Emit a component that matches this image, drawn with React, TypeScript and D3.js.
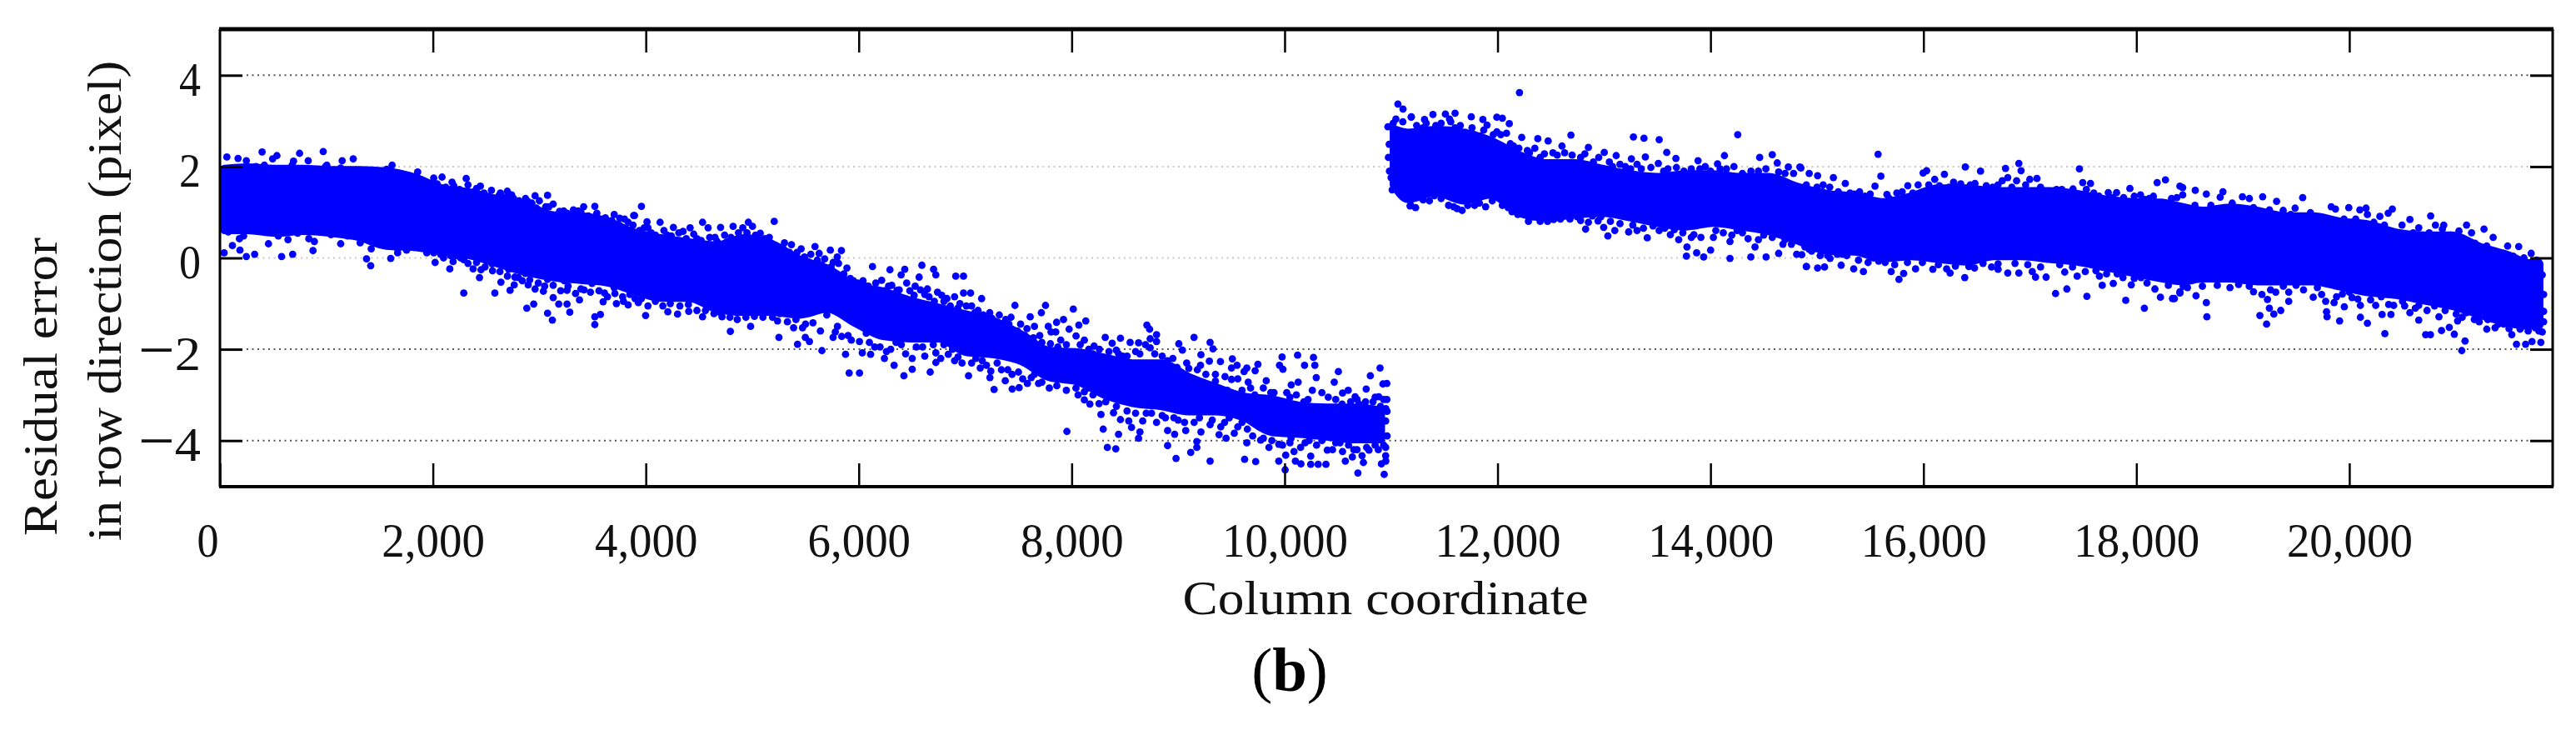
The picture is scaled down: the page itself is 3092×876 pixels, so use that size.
import { useEffect, useRef } from 'react';
import * as d3 from 'd3';

const columnTicks = [0, 2000, 4000, 6000, 8000, 10000, 12000, 14000, 16000, 18000, 20000];
const residualTicks = [-4, -2, 0, 2, 4];
const faintGridTicks = [0, 2];
const yTitleLines = ['Residual error', 'in row direction (pixel)'];
const xTitle = 'Column coordinate';
const panelLabel = 'b';

// The middle of each cloud is solid blue in the picture, single points can't be told apart there,
// so it is kept as a band: [column, high, low]
const leftBand: [number, number, number][] = [
  [45, 1.94, 0.62], [261, 1.97, 0.62], [522, 1.94, 0.56], [782, 1.94, 0.6], [1043, 1.91, 0.56], [1304, 1.91, 0.47],
  [1565, 1.88, 0.28], [1826, 1.75, 0.25], [2086, 1.51, 0.16], [2347, 1.42, 0.07], [2608, 1.27, -0.11], [2869, 1.15, -0.29],
  [3130, 0.92, -0.41], [3390, 0.9, -0.47], [3651, 0.78, -0.53], [3881, 0.55, -0.7], [4142, 0.42, -0.86], [4403, 0.33, -0.86],
  [4663, 0.26, -1.1], [4924, 0.42, -1.17], [5185, 0.29, -1.17], [5446, -0.05, -1.23], [5706, -0.25, -1.1], [5967, -0.62, -1.41],
  [6228, -0.75, -1.7], [6489, -0.95, -1.75], [6750, -1.1, -1.75], [7011, -1.25, -2.05], [7271, -1.4, -2.1], [7532, -1.7, -2.25],
  [7793, -2.05, -2.6], [8054, -2.08, -2.69], [8315, -2.2, -2.99], [8576, -2.32, -3.17], [8836, -2.32, -3.23], [9097, -2.62, -3.35],
  [9358, -2.85, -3.35], [9619, -3.05, -3.48], [9880, -3.11, -3.8], [10141, -3.25, -3.84], [10401, -3.29, -3.9], [10662, -3.29, -3.96],
  [10900, -3.35, -3.96],
];
const rightBand: [number, number, number][] = [
  [11030, 2.8, 1.6], [11158, 2.73, 1.3], [11419, 2.79, 1.45], [11680, 2.73, 1.27], [11940, 2.55, 1.4], [12201, 2.24, 1.0],
  [12462, 2.06, 0.9], [12723, 2.06, 0.96], [12984, 1.94, 1.0], [13244, 1.82, 0.9], [13505, 1.76, 0.78], [13766, 1.82, 0.7],
  [14027, 1.82, 0.78], [14287, 1.76, 0.7], [14548, 1.76, 0.6], [14809, 1.55, 0.4], [15097, 1.39, 0.17], [15358, 1.33, 0.15],
  [15618, 1.21, 0.0], [15879, 1.33, 0.05], [16140, 1.51, -0.01], [16401, 1.51, -0.07], [16662, 1.45, 0.05], [16922, 1.45, 0.05],
  [17183, 1.45, -0.01], [17444, 1.39, -0.07], [17705, 1.27, -0.19], [17966, 1.21, -0.31], [18226, 1.2, -0.43], [18435, 1.1, -0.5],
  [18618, 1.02, -0.44], [18879, 1.09, -0.44], [19139, 1.02, -0.5], [19400, 0.9, -0.5], [19661, 0.9, -0.5], [19922, 0.78, -0.62],
  [20183, 0.72, -0.74], [20443, 0.54, -0.8], [20704, 0.48, -0.92], [20965, 0.48, -1.04], [21226, 0.23, -1.23], [21487, 0.05, -1.41],
  [21695, -0.13, -1.47], [21780, -0.13, -1.47],
];

// [column, residual]
const leftUpperPoints: [number, number][] = [
  [65, 2.21], [170, 2.18], [248, 2.13], [396, 2.32], [495, 2.17], [535, 2.24], [691, 2.12], [748, 2.29], [829, 2.13], [970, 2.33],
  [1148, 2.13], [1252, 2.17], [1134, 1.97], [1004, 2.03], [1617, 2.03], [1857, 1.88], [1773, 1.8], [2086, 1.77], [2313, 1.74], [2196, 1.58],
  [2446, 1.57], [2634, 1.42], [2699, 1.46], [2759, 1.3], [2890, 1.24], [2960, 1.36], [3077, 1.37], [3090, 1.12], [3229, 1.03], [3416, 1.12],
  [3521, 1.13], [3703, 0.95], [3886, 0.93], [339, 2.0], [417, 2.03], [600, 1.94], [678, 2.03], [861, 1.94], [991, 2.0], [1174, 1.91],
  [1382, 1.91], [1460, 1.85], [1565, 1.94], [1695, 1.79], [2008, 1.75], [2139, 1.45], [2295, 1.42], [2386, 1.45], [2504, 1.3], [2608, 1.27],
  [2764, 1.09], [2973, 1.09], [3169, 0.87], [3364, 1.03], [3599, 0.78], [3755, 0.87], [3834, 0.78], [3959, 1.13], [3894, 0.93], [4011, 0.79],
  [4134, 0.78], [3985, 0.66], [4259, 0.67], [4416, 0.66], [4533, 0.78], [4585, 0.66], [4702, 0.67], [4820, 0.69], [4911, 0.66], [4963, 0.78],
  [5002, 0.69], [5075, 0.54], [5206, 0.8], [5172, 0.33], [5302, 0.33], [5368, 0.29], [5459, 0.2], [5589, 0.25], [5628, 0.1], [5733, 0.17],
  [5837, 0.16], [5798, 0.02], [5889, -0.22], [6129, -0.19], [6293, -0.26], [6432, -0.25], [6398, -0.37], [6593, -0.16], [6703, -0.25], [6724, -0.37],
  [6567, -0.42], [6911, -0.4], [6984, -0.4], [6215, -0.49], [6359, -0.71], [6645, -0.68], [6828, -0.89], [6984, -0.77], [7154, -0.89], [7050, -0.77],
  [7467, -1.04], [7754, -1.04], [7715, -1.2], [7610, -1.29], [4050, 0.55], [4200, 0.5], [4350, 0.58], [4480, 0.42], [4650, 0.45], [4760, 0.35],
  [5120, 0.42], [5250, 0.1], [5400, 0.05], [5520, -0.08], [5650, -0.15], [5760, -0.1], [5950, -0.5], [6050, -0.6], [6170, -0.7], [6280, -0.62],
  [6480, -0.72], [6530, -0.62], [6620, -0.8], [6740, -0.75], [6800, -0.95], [6900, -0.85], [6950, -1.0], [7060, -1.05], [7120, -1.15], [7230, -1.2],
  [7320, -1.25], [7380, -1.35], [7430, -1.3], [7520, -1.45], [7580, -1.55], [7650, -1.5], [7700, -1.7], [7780, -1.5], [7850, -1.62],
  [7806, -1.62], [7858, -1.41], [7897, -1.8], [7923, -1.35], [7976, -1.56], [8015, -1.12], [8041, -1.71], [8067, -1.47], [8119, -1.8], [8132, -1.38],
  [8210, -1.93], [8315, -1.74], [8380, -1.87], [8458, -1.76], [8419, -2.02], [8549, -1.85], [8628, -1.86], [8706, -1.47], [8732, -1.56], [8797, -1.68],
  [8797, -1.83], [8737, -1.77], [8693, -1.9], [8737, -1.97], [9006, -1.88], [9040, -2.02], [9149, -1.74], [9300, -1.85], [9327, -1.99], [9214, -2.12],
  [9397, -2.27], [9293, -2.26], [9509, -2.21], [9553, -2.35], [9501, -2.41], [9645, -2.41], [9619, -2.49], [9749, -2.33], [9723, -2.47], [9976, -2.17],
  [9952, -2.35], [9984, -2.44], [10122, -2.13], [10187, -2.35], [10271, -2.18], [10284, -2.35], [10505, -2.49], [10805, -2.58], [10896, -2.41], [10923, -2.76],
  [10884, -3.04], [10662, -3.04], [10597, -2.9], [10766, -2.87], [10544, -2.96], [10466, -2.72], [10297, -2.62], [9827, -2.69], [10127, -2.72], [10062, -2.78],
  [9658, -2.72], [9501, -2.66], [9462, -2.9], [9410, -2.9], [8200, -2.1], [8480, -2.15], [8600, -2.05], [8850, -2.15], [8950, -2.2], [9080, -2.3],
  [9180, -2.45], [9260, -2.55], [9350, -2.7], [9600, -2.9], [9720, -3.0], [9900, -2.95], [10050, -3.05], [10220, -3.1], [10350, -2.95], [10480, -3.1],
  [10620, -3.15], [10700, -3.2], [10830, -3.15], [10900, -3.25],
  [2040, 1.62], [2120, 1.55], [2180, 1.66], [2250, 1.5], [2330, 1.6], [2410, 1.52], [2480, 1.42], [2550, 1.48], [2620, 1.36], [2680, 1.33],
  [2740, 1.38], [2810, 1.25], [2870, 1.3], [2930, 1.2], [3000, 1.25], [3060, 1.12], [3130, 1.18], [3190, 1.02], [3260, 0.98], [3320, 1.05],
  [3390, 1.0], [3460, 0.92], [3540, 0.98], [3620, 0.88], [3680, 0.82], [3750, 0.72], [3800, 0.85], [3880, 0.72], [3940, 0.6], [4020, 0.66],
  [4090, 0.5], [4170, 0.6], [4240, 0.48], [4310, 0.55], [4380, 0.42], [4450, 0.52], [4520, 0.38], [4600, 0.45], [4670, 0.36], [4740, 0.5],
  [4800, 0.45], [4870, 0.55], [4950, 0.55], [5030, 0.5], [5100, 0.32], [5160, 0.45], [5220, 0.25], [5290, 0.2], [5350, 0.12], [5420, 0.12],
  [5490, 0.02], [5550, 0.08], [5610, -0.05], [5680, -0.02], [5740, -0.2], [5810, -0.12], [5860, -0.35], [5920, -0.45], [5990, -0.55], [6040, -0.5],
  [6090, -0.62], [6160, -0.55], [6240, -0.72], [6310, -0.6], [6380, -0.7], [6450, -0.55], [6520, -0.82], [6580, -0.7], [6660, -0.85], [6710, -0.95],
  [6780, -0.82], [6860, -1.05], [6930, -1.1], [7010, -1.05], [7090, -1.2], [7170, -1.25], [7250, -1.32], [7340, -1.5], [7410, -1.45], [7490, -1.6],
  [7560, -1.7], [7640, -1.75], [7720, -1.85], [7800, -1.88], [7870, -1.95], [7950, -1.9], [8080, -1.9], [8160, -2.0], [8260, -2.0], [8350, -2.05],
  [8440, -2.1], [8520, -2.15], [8640, -2.1], [8780, -2.1], [8900, -2.25], [8990, -2.4], [9100, -2.42], [9210, -2.35], [9350, -2.55], [9440, -2.6],
  [9560, -2.65], [9680, -2.85], [9800, -2.85], [9870, -2.95], [10020, -2.95], [10110, -3.0], [10180, -3.15], [10260, -2.9], [10410, -3.05], [10540, -3.2],
  [10680, -3.1], [10760, -3.15], [10850, -3.05], [10930, -3.1], [10950, -3.3],
];
const leftLowerPoints: [number, number][] = [
  [117, 0.27], [183, 0.42], [222, 0.48], [39, 0.11], [188, 0.17], [248, 0.03], [326, 0.08], [456, 0.31], [579, 0.03], [639, 0.4],
  [683, 0.08], [874, 0.16], [887, 0.36], [1134, 0.31], [1239, 0.49], [1317, 0.33], [1377, -0.02], [1416, -0.17], [1421, 0.2], [1604, -0.01],
  [1669, 0.11], [1753, 0.17], [1943, 0.11], [2021, -0.1], [2073, 0.08], [2159, -0.24], [2217, 0.05], [2290, -0.04], [2290, -0.77], [2378, -0.24],
  [2438, -0.43], [2452, -0.26], [2582, -0.77], [2639, -0.53], [2725, -0.71], [2764, -0.59], [2804, -0.43], [2882, -1.1], [2947, -1.01], [2895, -0.59],
  [2960, -0.68], [3038, -0.73], [3077, -1.21], [3122, -1.36], [3130, -0.87], [3182, -1.01], [3260, -0.71], [3260, -1.01], [3286, -1.19], [3377, -0.92],
  [3390, -0.68], [3521, -1.29], [3573, -1.24], [3521, -1.46], [3599, -0.96], [3612, -0.77], [3724, -1.0], [3782, -0.85], [3834, -1.03], [3899, -0.89],
  [78, 0.57], [261, 0.6], [443, 0.57], [548, 0.48], [730, 0.54], [835, 0.42], [1043, 0.51], [1200, 0.48], [1356, 0.42], [1513, 0.3],
  [1669, 0.2], [1826, 0.23], [2008, 0.11], [2165, 0.05], [2347, 0.05], [2556, -0.13], [2712, -0.25], [2869, -0.34], [3077, -0.47], [3234, -0.5],
  [3495, -0.56], [3703, -0.65], [3860, -0.62], [3998, -1.26], [3959, -0.89], [4207, -1.18], [4298, -1.23], [4403, -1.17], [4533, -1.29], [4716, -1.29],
  [4794, -1.61], [4859, -1.35], [4984, -1.5], [5237, -1.38], [5250, -1.74], [5388, -1.53], [5425, -1.89], [5472, -1.53], [5498, -1.74], [5537, -1.83],
  [5654, -2.03], [5759, -1.74], [5876, -2.11], [5910, -2.52], [6007, -2.52], [6007, -1.83], [6033, -2.08], [6111, -2.11], [6241, -2.2], [6332, -2.35],
  [6424, -2.58], [6502, -2.44], [6502, -2.2], [6671, -2.5], [6724, -2.29], [6724, -2.08], [6841, -2.11], [6932, -2.17], [7031, -2.58], [7141, -2.41],
  [7232, -2.62], [7271, -2.88], [7376, -2.69], [7441, -2.87], [7506, -2.84], [7584, -2.75], [7689, -2.75], [5800, -1.5], [5900, -1.7], [6100, -1.85],
  [6200, -1.95], [6300, -2.0], [6400, -1.9], [6600, -1.95], [6800, -1.9], [6900, -2.25], [7100, -2.2], [7200, -2.35], [7300, -2.3], [7400, -2.45],
  [7500, -2.5], [7650, -2.55], [7955, -3.8], [8119, -2.93], [8119, -3.11], [8171, -3.2], [8257, -3.19], [8275, -3.43], [8296, -3.75], [8335, -4.15],
  [8414, -4.18], [8440, -3.86], [8393, -3.39], [8458, -3.54], [8536, -3.57], [8562, -3.71], [8628, -3.95], [8641, -3.81], [8667, -3.57], [8797, -3.6],
  [8901, -3.78], [8967, -3.86], [8901, -4.11], [8980, -4.39], [9118, -4.26], [9175, -4.15], [9175, -4.02], [9071, -3.78], [9214, -3.81], [9300, -4.45],
  [9384, -3.87], [9436, -3.6], [9527, -3.84], [9645, -4.05], [9624, -4.41], [9728, -4.46], [9775, -3.99], [9853, -4.15], [9945, -4.08], [9945, -4.45],
  [10010, -4.32], [10005, -4.64], [10088, -4.24], [10101, -4.45], [10153, -4.51], [10245, -4.34], [10245, -4.52], [10315, -4.52], [10388, -4.52], [10192, -4.05],
  [10401, -4.21], [10570, -4.45], [10544, -4.24], [10688, -4.71], [10740, -4.48], [10727, -4.33], [10909, -4.51], [10935, -4.74], [10949, -4.33], [10949, -4.15],
  [10962, -3.9], [10949, -3.57], [10962, -3.36], [10792, -4.21], [10636, -4.36], [8700, -3.4], [8850, -3.45], [9000, -3.55], [9150, -3.6], [9300, -3.65],
  [9450, -3.95], [9560, -3.7], [9650, -3.75], [9800, -3.95], [10050, -4.05], [10300, -4.1], [10480, -4.05], [10600, -4.1], [10680, -4.2], [10850, -4.1],
  [10960, -3.1], [10960, -2.75], [10950, -4.45],
  [2100, 0.0], [2190, -0.08], [2260, 0.0], [2330, -0.12], [2410, -0.1], [2490, -0.2], [2560, -0.28], [2630, -0.3], [2700, -0.4], [2770, -0.42],
  [2840, -0.5], [2910, -0.48], [2990, -0.55], [3050, -0.62], [3130, -0.6], [3200, -0.72], [3270, -0.62], [3340, -0.78], [3420, -0.7], [3480, -0.75],
  [3560, -0.72], [3640, -0.85], [3710, -0.78], [3790, -0.95], [3850, -0.8], [3930, -0.98], [4020, -1.05], [4090, -0.95], [4160, -1.05], [4230, -1.0],
  [4320, -1.05], [4400, -1.02], [4480, -1.15], [4560, -1.15], [4640, -1.22], [4700, -1.2], [4790, -1.3], [4860, -1.2], [4940, -1.3], [5020, -1.28],
  [5100, -1.3], [5190, -1.3], [5260, -1.22], [5330, -1.4], [5410, -1.35], [5500, -1.45], [5570, -1.42], [5640, -1.6], [5700, -1.25], [5780, -1.62],
  [5840, -1.72], [5930, -1.8], [6070, -1.65], [6150, -1.95], [6260, -2.05], [6350, -1.85], [6440, -2.1], [6540, -1.95], [6620, -2.15], [6700, -1.9],
  [6770, -2.2], [6880, -2.0], [6970, -2.3], [7060, -2.3], [7160, -2.25], [7240, -2.48], [7340, -2.45], [7440, -2.55], [7540, -2.65], [7620, -2.62],
  [7720, -2.72], [7790, -2.85], [7860, -2.8], [7950, -2.9], [8040, -2.85], [8060, -3.0], [8150, -2.85], [8200, -3.0], [8320, -3.15], [8420, -3.25],
  [8520, -3.35], [8600, -3.4], [8750, -3.4], [8880, -3.5], [8960, -3.5], [9060, -3.6], [9200, -3.5], [9320, -3.55], [9400, -3.7], [9480, -3.5],
  [9600, -3.6], [9700, -3.9], [9760, -3.7], [9880, -4.0], [9980, -4.1], [10060, -3.95], [10150, -4.15], [10230, -4.0], [10350, -4.0], [10450, -4.2],
  [10520, -4.05], [10650, -4.2], [10770, -4.15], [10880, -4.2], [10930, -4.1],
];
const rightUpperPoints: [number, number][] = [
  [11064, 3.37], [11112, 3.26], [11190, 3.09], [11045, 3.04], [10970, 2.87], [10982, 2.49], [10975, 2.2], [10985, 1.9], [11189, 3.08], [11314, 3.03],
  [11393, 3.14], [11510, 3.15], [11601, 3.17], [11549, 3.04], [11753, 3.09], [11862, 3.03], [11901, 2.91], [11993, 3.08], [12045, 3.06], [12110, 2.94],
  [12206, 3.62], [12227, 2.64], [12378, 2.61], [12475, 2.56], [12689, 2.69], [12605, 2.45], [12853, 2.42], [13002, 2.31], [13114, 2.24], [13276, 2.65],
  [13375, 2.62], [13518, 2.59], [13589, 2.31], [13675, 2.18], [13388, 2.21], [13257, 2.17], [13510, 2.07], [13883, 2.13], [14131, 2.24], [14256, 2.7],
  [14462, 2.2], [14580, 2.26], [14627, 2.08], [14731, 1.99], [14840, 1.99], [14066, 2.06], [11784, 2.7], [12084, 2.73], [11236, 2.67], [11993, 2.76],
  [11836, 2.67], [11300, 2.85], [11420, 2.9], [11600, 2.85], [11700, 2.75], [12150, 2.45], [12300, 2.3], [12400, 2.2], [12560, 2.25], [12780, 2.2],
  [12900, 2.1], [13050, 2.1], [13200, 2.0], [13350, 1.95], [13600, 1.95], [13750, 1.9], [13900, 1.95], [14000, 1.9], [14150, 1.95], [14300, 1.85],
  [14450, 1.9], [14700, 1.85], [14849, 1.97], [14927, 1.85], [15006, 1.8], [15058, 1.6], [15154, 1.76], [15266, 1.63], [15574, 2.27], [15600, 1.79],
  [15545, 1.57], [15657, 1.39], [15853, 1.58], [15997, 1.86], [16030, 1.91], [16106, 1.72], [16197, 1.83], [16283, 1.66], [16393, 1.99], [16536, 1.9],
  [16484, 1.63], [16771, 1.96], [16896, 2.07], [16917, 1.91], [16792, 1.76], [16875, 1.69], [16999, 1.72], [17066, 1.74], [16740, 1.69], [17465, 1.95],
  [17496, 1.65], [17569, 1.63], [17736, 1.43], [17814, 1.43], [17939, 1.52], [18039, 1.38], [18195, 1.65], [18273, 1.71], [18409, 1.57], [17405, 1.51],
  [17183, 1.42], [15000, 1.55], [15200, 1.45], [15350, 1.4], [15450, 1.35], [15750, 1.42], [15950, 1.6], [16300, 1.55], [16650, 1.55], [17250, 1.5],
  [17650, 1.35], [17880, 1.32], [18120, 1.3], [18330, 1.3], [18435, 1.54], [18553, 1.48], [18435, 1.38], [18657, 1.4], [18813, 1.45], [18787, 1.33],
  [18996, 1.34], [19061, 1.3], [19186, 1.34], [19317, 1.24], [19562, 1.32], [19379, 1.04], [19491, 1.09], [19635, 0.99], [19830, 1.12], [19870, 1.07],
  [19995, 1.1], [20099, 1.05], [20157, 1.09], [20170, 0.95], [20287, 0.91], [20404, 1.07], [20365, 0.98], [20495, 0.72], [20569, 0.84], [20652, 0.66],
  [20764, 0.92], [20809, 0.72], [20887, 0.72], [20874, 0.63], [21030, 0.59], [21101, 0.72], [21148, 0.55], [21265, 0.63], [21351, 0.45], [21291, 0.26],
  [21487, 0.26], [21591, 0.25], [21708, 0.1], [21395, 0.05], [21539, 0.04], [18550, 1.15], [18700, 1.15], [18900, 1.2], [19100, 1.1], [19250, 1.05],
  [19450, 0.95], [19600, 0.9], [19760, 0.85], [19950, 0.85], [20060, 0.85], [20230, 0.78], [20330, 0.72], [20600, 0.55], [20750, 0.55], [20950, 0.5],
  [21080, 0.4], [21180, 0.32], [21340, 0.15], [21450, 0.1], [21640, 0.0], [21760, -0.05],
  [11020, 2.95], [11110, 2.98], [11240, 2.9], [11330, 2.95], [11470, 2.95], [11560, 2.98], [11650, 2.9], [11760, 2.85], [11870, 2.8], [11960, 2.7],
  [12030, 2.7], [12120, 2.5], [12200, 2.4], [12280, 2.35], [12350, 2.4], [12440, 2.28], [12520, 2.3], [12630, 2.3], [12700, 2.25], [12820, 2.28],
  [12950, 2.2], [13080, 2.0], [13150, 2.05], [13250, 1.95], [13310, 2.05], [13440, 1.98], [13560, 1.9], [13680, 1.98], [13820, 1.95], [13950, 2.0],
  [14090, 1.95], [14220, 2.0], [14380, 1.9], [14520, 1.95], [14640, 1.88], [14780, 1.85], [14900, 1.6], [15050, 1.45], [15120, 1.55], [15310, 1.42],
  [15400, 1.45], [15500, 1.4], [15680, 1.3], [15800, 1.45], [15900, 1.42], [16050, 1.6], [16150, 1.58], [16240, 1.55], [16350, 1.62], [16440, 1.6],
  [16590, 1.58], [16700, 1.6], [16830, 1.55], [16960, 1.6], [17100, 1.55], [17300, 1.5], [17380, 1.42], [17530, 1.5], [17600, 1.42], [17780, 1.32],
  [17980, 1.35], [18080, 1.28], [18160, 1.35], [18380, 1.32],
];
const rightLowerPoints: [number, number][] = [
  [11000, 1.76], [11010, 1.49], [11134, 1.4], [11178, 1.14], [11040, 1.55], [11090, 1.5], [11184, 1.15], [11301, 1.27], [11406, 1.36], [11588, 1.12],
  [11667, 1.04], [11784, 1.15], [11888, 1.12], [12045, 1.15], [12136, 1.01], [12253, 0.96], [12332, 0.9], [12527, 0.84], [12749, 0.9], [12827, 0.63],
  [12853, 0.78], [12944, 0.81], [13036, 0.48], [13101, 0.6], [12997, 0.67], [13231, 0.57], [13310, 0.6], [13406, 0.44], [13518, 0.6], [13623, 0.51],
  [13701, 0.4], [13779, 0.24], [13774, 0.04], [13870, 0.11], [13936, 0.02], [14001, 0.17], [14183, -0.01], [14183, 0.36], [14353, 0.42], [14379, 0.02],
  [14418, 0.24], [14522, 0.02], [14640, 0.1], [14809, 0.08], [14900, -0.19], [14887, 0.24], [13844, 0.51], [14027, 0.45], [14250, 0.6], [14500, 0.5],
  [14700, 0.4], [14857, 0.07], [14927, 0.19], [14901, -0.19], [15006, -0.22], [15071, -0.2], [15123, -0.01], [15227, -0.16], [15345, -0.24], [15436, -0.3],
  [15240, 0.08], [15579, -0.07], [15697, -0.3], [15770, -0.47], [15814, -0.34], [15926, -0.24], [16088, -0.25], [16218, -0.24], [16250, -0.33], [16388, -0.43],
  [16427, -0.19], [16701, -0.13], [16701, -0.25], [16792, -0.33], [16896, -0.33], [17022, -0.3], [17053, -0.42], [17152, -0.42], [17241, -0.78], [17347, -0.68],
  [17327, -0.31], [17444, -0.4], [17535, -0.84], [17653, -0.4], [17679, -0.6], [17783, -0.56], [17874, -0.43], [17900, -0.93], [17952, -0.59], [18075, -1.1],
  [18044, -0.43], [18174, -0.68], [18226, -0.86], [18339, -0.89], [18409, -0.77], [18409, -0.74], [18357, -0.89], [18560, -0.83], [18657, -0.98], [18662, -1.29],
  [18879, -0.65], [19100, -0.74], [19179, -0.8], [19231, -0.91], [19160, -1.26], [19223, -1.45], [19249, -1.1], [19291, -1.23], [19356, -1.15], [19309, -0.75],
  [19431, -0.75], [19431, -0.95], [19661, -0.86], [19786, -1.18], [19791, -1.29], [19778, -0.95], [19857, -0.98], [19909, -1.38], [19953, -1.07], [19935, -0.79],
  [20026, -0.87], [20104, -1.04], [20104, -1.3], [20170, -1.43], [20248, -1.04], [20308, -1.24], [20391, -1.24], [20417, -1.04], [20334, -1.66], [20569, -1.2],
  [20652, -1.04], [20652, -1.36], [20717, -1.68], [20762, -1.68], [20842, -1.29], [20866, -1.59], [20986, -1.67], [20939, -1.52], [21017, -1.38], [21004, -1.23],
  [21087, -1.82], [21056, -2.03], [21174, -1.35], [21291, -1.56], [21369, -1.53], [21526, -1.68], [21570, -1.89], [21656, -1.89], [21716, -1.83], [21799, -1.85],
  [21812, -1.62], [21747, -1.53], [21604, -1.56], [21825, -1.17], [21825, -0.8], [21812, -0.37], [21773, -0.07], [19500, -0.6], [19700, -0.65], [20000, -0.75],
  [20300, -0.85], [20500, -0.95], [20800, -1.05], [21100, -1.2], [21300, -1.35], [21450, -1.45], [21600, -1.5], [21825, -1.4],
  [11060, 1.5], [11230, 1.1], [11360, 1.25], [11470, 1.3], [11540, 1.15], [11620, 1.08], [11720, 1.15], [11830, 1.2], [11950, 1.25], [12100, 1.1],
  [12190, 0.95], [12290, 0.8], [12400, 0.8], [12470, 0.8], [12590, 0.85], [12680, 0.85], [12780, 0.82], [12890, 0.92], [12970, 0.9], [13060, 0.8],
  [13150, 0.75], [13270, 0.72], [13370, 0.65], [13460, 0.7], [13570, 0.65], [13660, 0.62], [13740, 0.55], [13820, 0.45], [13910, 0.45], [14050, 0.6],
  [14120, 0.55], [14200, 0.5], [14300, 0.55], [14450, 0.4], [14580, 0.45], [14680, 0.3], [14760, 0.3], [14950, 0.15], [15030, 0.05], [15100, 0.05],
  [15190, 0.08], [15280, 0.05], [15390, -0.05], [15480, -0.1], [15530, 0.0], [15640, -0.1], [15730, -0.15], [15850, -0.1], [15990, -0.1], [16140, -0.15],
  [16300, -0.18], [16480, -0.22], [16560, -0.12], [16640, -0.2], [16860, -0.12], [16980, -0.15], [17100, -0.2], [17280, -0.15], [17400, -0.2], [17520, -0.3],
  [17620, -0.28], [17720, -0.35], [17820, -0.35], [17980, -0.45], [18100, -0.55], [18300, -0.6], [18440, -0.62], [18480, -0.65], [18620, -0.62], [18760, -0.6],
  [18960, -0.58], [19060, -0.62], [19260, -0.7], [19380, -0.62], [19570, -0.7], [19740, -0.8], [19880, -0.85], [20080, -0.9], [20200, -0.92], [20370, -1.02],
  [20520, -1.05], [20620, -1.1], [20730, -1.15], [20900, -1.15], [21060, -1.3], [21220, -1.4], [21400, -1.45], [21500, -1.55], [21680, -1.6], [21780, -1.6],
];

const serif = '"Liberation Serif", serif';

export default function App() {
  const svgRef = useRef<SVGSVGElement>(null);

  useEffect(() => {
    if (!svgRef.current) return;
    const svg = d3.select(svgRef.current);
    svg.selectAll('*').remove();

    const margin = { top: 35, right: 28, bottom: 292, left: 264 };
    const width = 3092 - margin.left - margin.right;
    const height = 876 - margin.top - margin.bottom;

    const x = d3.scaleLinear().domain([0, 21910]).range([0, width]);
    const y = d3.scaleLinear().domain([-4, 4]).range([493.7, 55.3]);

    const g = svg.append('g').attr('transform', `translate(${margin.left},${margin.top})`);

    // Grid lines stop short of the tick marks
    g.append('g')
      .selectAll('line')
      .data(residualTicks)
      .join('line')
      .attr('x1', 32)
      .attr('x2', width - 28)
      .attr('y1', d => y(d))
      .attr('y2', d => y(d))
      .attr('stroke', d => (faintGridTicks.includes(d) ? '#c8c8c8' : '#555'))
      .attr('stroke-width', 2)
      .attr('stroke-dasharray', '2 4.5');

    // Solid middle of the clouds, the stroke closes the seam to the points along its edge
    const band = d3.area<[number, number, number]>()
      .x(d => x(d[0]))
      .y0(d => y(d[2]))
      .y1(d => y(d[1]))
      .curve(d3.curveMonotoneX);
    [leftBand, rightBand].forEach(b => {
      g.append('path')
        .attr('d', band(b))
        .attr('fill', '#0000ff')
        .attr('stroke', '#0000ff')
        .attr('stroke-width', 11)
        .attr('stroke-linejoin', 'round');
    });

    // Points
    const points = [...leftUpperPoints, ...leftLowerPoints, ...rightUpperPoints, ...rightLowerPoints];
    g.append('g')
      .selectAll('circle')
      .data(points)
      .join('circle')
      .attr('cx', d => x(d[0]))
      .attr('cy', d => y(d[1]))
      .attr('r', 4.4)
      .attr('fill', '#0000ff');

    // Axes
    const xAxis = g.append('g')
      .attr('transform', `translate(0,${height})`)
      .call(d3.axisBottom(x).tickValues(columnTicks).tickSize(-28).tickPadding(43).tickFormat(d3.format(',') as any));
    xAxis.select('.domain').remove();
    xAxis.selectAll('.tick line').attr('stroke', '#000').attr('stroke-width', 2.5);
    xAxis.selectAll<SVGTextElement, number>('.tick text')
      .attr('font-family', serif)
      .attr('font-size', 58)
      .attr('fill', '#111')
      .attr('dx', d => (d === 0 ? -15 : 0))
      .attr('textLength', d => (d === 0 ? 26 : String(d).length * 27.5 + 13.5))
      .attr('lengthAdjust', 'spacingAndGlyphs');

    const topTicks = g.append('g')
      .call(d3.axisTop(x).tickValues(columnTicks.slice(1)).tickSize(-28).tickFormat(() => ''));
    topTicks.select('.domain').remove();
    topTicks.selectAll('.tick line').attr('stroke', '#000').attr('stroke-width', 2.5);

    const yAxis = g.append('g')
      .call(d3.axisLeft(y).tickValues(residualTicks).tickSize(-27).tickPadding(23).tickFormat(() => ''));
    yAxis.select('.domain').remove();
    yAxis.selectAll('.tick line').attr('stroke', '#000').attr('stroke-width', 3);
    yAxis.selectAll<SVGTextElement, number>('.tick text')
      .attr('font-family', serif)
      .attr('font-size', 58)
      .attr('fill', '#111')
      .attr('dy', 24)
      .attr('textLength', d => (d < 0 ? 75 : 26))
      .attr('lengthAdjust', 'spacingAndGlyphs')
      .each(function (d) {
        const t = d3.select(this);
        if (d < 0) t.append('tspan').attr('font-size', 72).attr('font-weight', 300).text('\u2212');
        t.append('tspan').text(Math.abs(d));
      });

    const rightTicks = g.append('g')
      .attr('transform', `translate(${width},0)`)
      .call(d3.axisRight(y).tickValues(residualTicks).tickSize(-27).tickFormat(() => ''));
    rightTicks.select('.domain').remove();
    rightTicks.selectAll('.tick line').attr('stroke', '#000').attr('stroke-width', 3);

    // Frame, the top and bottom edges are heavier in the original
    const frame: [number, number, number, number, number][] = [
      [-1, 0, width + 1, 0, 5],
      [-1, height + 0, width + 1, height + 0, 4],
      [0, 0, 0, height, 3],
      [width, 0, width, height, 3],
    ];
    g.append('g')
      .selectAll('line')
      .data(frame)
      .join('line')
      .attr('x1', d => d[0])
      .attr('y1', d => d[1])
      .attr('x2', d => d[2])
      .attr('y2', d => d[3])
      .attr('stroke', '#000')
      .attr('stroke-width', d => d[4]);

    // Titles
    svg.append('text')
      .attr('x', 1663)
      .attr('y', 737)
      .attr('text-anchor', 'middle')
      .attr('font-family', serif)
      .attr('font-size', 58)
      .attr('fill', '#111')
      .attr('textLength', 487)
      .attr('lengthAdjust', 'spacingAndGlyphs')
      .text(xTitle);

    const caption = svg.append('text')
      .attr('x', 1548)
      .attr('y', 829)
      .attr('text-anchor', 'middle')
      .attr('font-family', serif)
      .attr('font-size', 75)
      .attr('fill', '#000');
    caption.append('tspan').text('(');
    caption.append('tspan').attr('font-weight', 'bold').text(panelLabel);
    caption.append('tspan').text(')');

    const yTitleSpecs = [
      { x: 68, bottom: 643, length: 358 },
      { x: 145, bottom: 649, length: 576 },
    ];
    yTitleLines.forEach((line, i) => {
      svg.append('text')
        .attr('transform', `translate(${yTitleSpecs[i].x},${yTitleSpecs[i].bottom}) rotate(-90)`)
        .attr('font-family', serif)
        .attr('font-size', 58)
        .attr('fill', '#111')
        .attr('textLength', yTitleSpecs[i].length)
        .attr('lengthAdjust', 'spacingAndGlyphs')
        .text(line);
    });
  }, []);

  return (
    <svg
      ref={svgRef}
      width={3092}
      height={876}
      style={{ position: 'absolute', left: 0, top: 0, background: '#fff' }}
    />
  );
}
